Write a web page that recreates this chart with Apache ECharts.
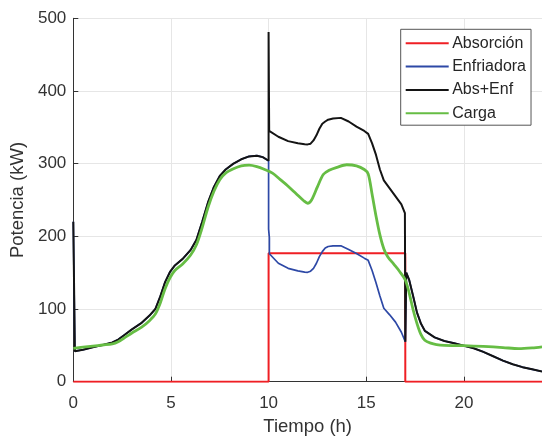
<!DOCTYPE html>
<html>
<head>
<meta charset="utf-8">
<script src="https://cdn.jsdelivr.net/npm/echarts@6/dist/echarts.min.js"></script>
<style>
  html, body { margin: 0; padding: 0; background: #ffffff; }
  #chart { width: 542px; height: 436px; }
</style>
</head>
<body>
<div id="chart"></div>
<script>
// Power balance over one day: absorption chiller, electric chiller, their sum and the cooling load.
// Each series is a list of [hour, kW] points.

const seriesNames = ['Absorción', 'Enfriadora', 'Abs+Enf', 'Carga'];

// Absorption chiller: off, then a constant block between 10 h and 17 h
const absorcion = [
  [0, 0], [10, 0], [10, 176.6], [17, 176.6], [17, 0], [24, 0]
];

// Stretches where only the electric chiller runs (0-10 h and 17-24 h)
const soloEnfriadoraManana = [
  [0, 220], [0.08, 42], [0.5, 44], [1.0, 47.5], [1.5, 50.5], [2.0, 54],
  [2.3, 58], [2.6, 64], [3.0, 72], [3.5, 81], [3.9, 91], [4.2, 100],
  [4.45, 117], [4.7, 137], [4.95, 151], [5.2, 160], [5.6, 169], [6.0, 181],
  [6.3, 195], [6.6, 220], [6.9, 247], [7.2, 268], [7.5, 283], [7.8, 292],
  [8.2, 300], [8.6, 306], [9.0, 310], [9.4, 311], [9.7, 309], [10.0, 304]
];
const soloEnfriadoraTarde = [
  [17.05, 150], [17.2, 140], [17.4, 118], [17.6, 95], [17.8, 80], [18.0, 70],
  [18.5, 61], [19.0, 56], [19.5, 53], [20.0, 49.5], [20.5, 46], [21.0, 41],
  [21.5, 35], [22.0, 29], [22.5, 24], [23.0, 20], [23.5, 17], [24.0, 14]
];

// Electric chiller while the absorption unit is on
const enfriadoraTramo = [
  [10.0, 210], [10.04, 198], [10.04, 176], [10.5, 163], [11.0, 156],
  [11.5, 152.5], [11.85, 150.8], [12.0, 150.5], [12.15, 152], [12.3, 156],
  [12.45, 163], [12.6, 172], [12.75, 179], [12.9, 184], [13.05, 186],
  [13.3, 187], [13.7, 187], [14.1, 182], [14.5, 176.5], [14.9, 170],
  [15.1, 167], [15.3, 153], [15.5, 136], [15.7, 118], [15.9, 101],
  [16.2, 92], [16.5, 82], [16.8, 68], [17.0, 55]
];

// Combined supply while the absorption unit is on
const sumaTramo = [
  [10.0, 481], [10.03, 345], [10.5, 337], [11.0, 331], [11.5, 328],
  [11.85, 326.8], [12.0, 326.5], [12.15, 327.5], [12.3, 332], [12.45, 339],
  [12.6, 348], [12.75, 355], [12.9, 358], [13.05, 360.5], [13.3, 362],
  [13.7, 363], [14.1, 358], [14.5, 351], [14.9, 345], [15.1, 341],
  [15.3, 328], [15.5, 312], [15.7, 292], [15.9, 277], [16.2, 266],
  [16.5, 255], [16.8, 244], [16.98, 232], [17.0, 55]
];

// Cooling load
const carga = [
  [0, 46], [0.5, 47.5], [1.0, 49], [1.5, 50.5], [2.0, 52], [2.3, 55],
  [2.6, 60], [3.0, 67], [3.5, 75], [3.9, 84], [4.2, 93], [4.45, 108],
  [4.7, 128], [4.95, 143], [5.2, 153], [5.6, 162], [6.0, 174], [6.3, 188],
  [6.6, 212], [6.9, 240], [7.2, 262], [7.5, 278], [7.8, 287], [8.2, 293],
  [8.6, 297], [9.0, 298], [9.4, 296], [9.8, 292], [10.2, 287], [10.6, 278],
  [11.0, 269], [11.4, 259], [11.8, 249], [12.0, 245.5], [12.2, 250],
  [12.5, 268], [12.8, 285], [13.1, 291], [13.5, 295], [14.0, 298.5],
  [14.5, 297], [14.9, 292], [15.1, 286], [15.3, 258], [15.5, 228],
  [15.7, 202], [15.9, 183], [16.1, 172], [16.4, 162], [16.7, 152],
  [17.0, 140], [17.2, 122], [17.4, 99], [17.6, 80], [17.8, 65], [18.0, 57],
  [18.3, 53], [18.6, 51], [19.0, 50], [20.0, 49.5], [21.0, 48.5],
  [22.0, 47], [22.8, 45.5], [23.5, 46.5], [24.0, 48]
];

const enfriadora = soloEnfriadoraManana.concat(enfriadoraTramo, soloEnfriadoraTarde);
const absEnf = soloEnfriadoraManana.concat(sumaTramo, soloEnfriadoraTarde);

const colors = ['#ef1f24', '#2d48a6', '#141414', '#66bd44'];
const widths = [2, 1.7, 2, 2.8];
const smoothing = [false, false, false, 0.3];
const datasets = [absorcion, enfriadora, absEnf, carga];

const FONT = '"Liberation Sans", Arial, Helvetica, sans-serif';
const TEXT = '#333333';

const chart = echarts.init(document.getElementById('chart'), null, { renderer: 'canvas' });

chart.setOption({
  animation: false,
  backgroundColor: '#ffffff',
  grid: {
    left: 73.3, right: 0, top: 18.3, bottom: 54.3,
    containLabel: false,
    outerBoundsMode: 'none'
  },
  legend: {
    orient: 'vertical',
    left: 400.7,
    top: 29.3,
    padding: [6, 5, 4, 4],
    itemWidth: 43,
    itemHeight: 14,
    itemGap: 7.3,
    backgroundColor: '#ffffff',
    borderColor: '#555555',
    borderWidth: 1,
    borderRadius: 0,
    itemStyle: { opacity: 0 },
    textStyle: { fontFamily: FONT, fontSize: 16, lineHeight: 14, color: '#262626', padding: [0, 0, 0, -1.5] },
    data: seriesNames
  },
  xAxis: {
    type: 'value',
    min: 0,
    max: 24,
    interval: 5,
    name: 'Tiempo (h)',
    nameLocation: 'middle',
    nameGap: 36,
    nameTextStyle: { fontFamily: FONT, fontSize: 18.5, color: TEXT },
    axisLine: { show: true, onZero: false, lineStyle: { color: '#333333', width: 1 } },
    axisTick: { show: true, inside: true, length: 5, lineStyle: { color: '#333333' } },
    axisLabel: { fontFamily: FONT, fontSize: 17, color: TEXT, margin: 13, showMaxLabel: false },
    splitLine: { show: true, lineStyle: { color: '#e6e6e6', width: 1 } }
  },
  yAxis: {
    type: 'value',
    min: 0,
    max: 500,
    interval: 100,
    name: 'Potencia (kW)',
    nameLocation: 'middle',
    nameGap: 40,
    nameTextStyle: { fontFamily: FONT, fontSize: 18.5, color: TEXT },
    axisLine: { show: true, onZero: false, lineStyle: { color: '#333333', width: 1 } },
    axisTick: { show: true, inside: true, length: 5, lineStyle: { color: '#333333' } },
    axisLabel: { fontFamily: FONT, fontSize: 17, color: TEXT, margin: 7 },
    splitLine: { show: true, lineStyle: { color: '#e6e6e6', width: 1 } }
  },
  series: seriesNames.map((name, i) => ({
    name: name,
    type: 'line',
    data: datasets[i],
    symbol: 'none',
    showSymbol: false,
    smooth: smoothing[i],
    clip: true,
    color: colors[i],
    lineStyle: { color: colors[i], width: widths[i] },
    z: 2 + i
  }))
});
</script>
</body>
</html>
